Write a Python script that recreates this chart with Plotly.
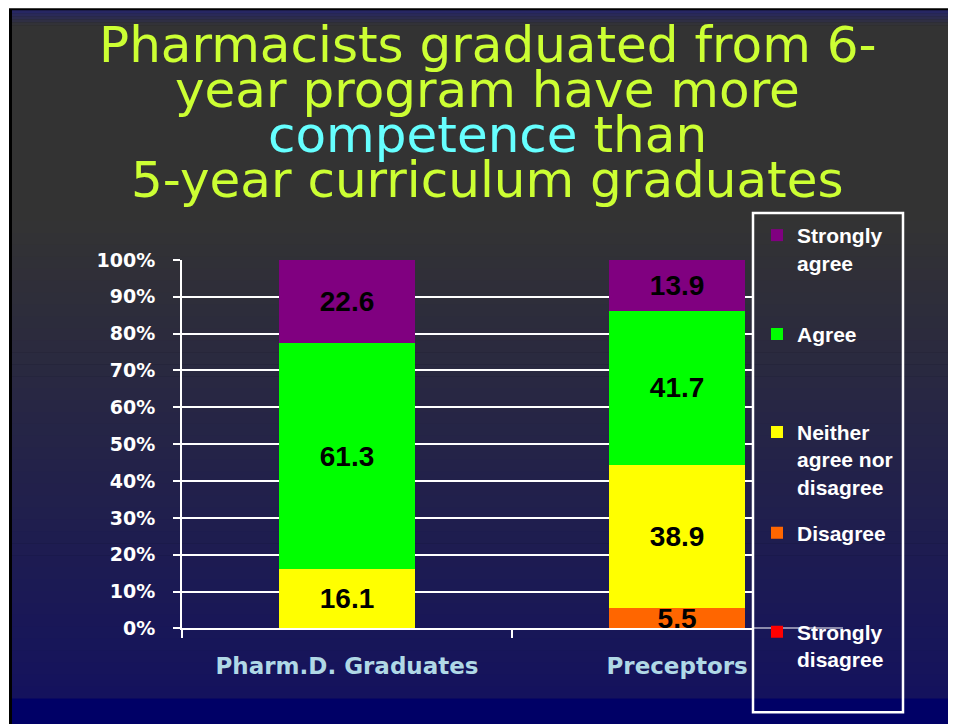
import plotly.graph_objects as go

# Figure sits inside the page's 8px body margin; the capture maps page y to 0.971*y + 10,
# so reference pixel positions are converted back through that before use.
W, H = 940, 728
MARGIN = 8
SY, OY = 0.971, 10

# Survey data (% of respondents)
categories = ["Pharm.D. Graduates", "Preceptors"]
strongly_disagree = [0, 0]
disagree = [0, 5.5]
neither = [16.1, 38.9]
agree = [61.3, 41.7]
strongly_agree = [22.6, 13.9]

series = [
    ("Strongly<br>disagree", strongly_disagree, "#FF0000", "legend5"),
    ("Disagree", disagree, "#FF6600", "legend4"),
    ("Neither<br>agree nor<br>disagree", neither, "#FFFF00", "legend3"),
    ("Agree", agree, "#00FF00", "legend2"),
    ("Strongly<br>agree", strongly_agree, "#800080", "legend"),
]


def px_x(px):
    return (px - MARGIN) / W


def px_y(px):
    return 1 - ((px - OY) / SY - MARGIN) / H


def blend(c0, c1, t):
    return "rgb({},{},{})".format(*[round(a + (b - a) * t) for a, b in zip(c0, c1)])


fig = go.Figure()

for name, vals, color, leg in series:
    fig.add_trace(go.Bar(
        x=categories,
        y=vals,
        name=name,
        marker=dict(color=color, line=dict(width=0)),
        text=[f"{v}" if v else "" for v in vals],
        textposition="inside",
        insidetextanchor="middle",
        textangle=0,
        textfont=dict(family="Liberation Sans", size=28, color="black", weight="bold"),
        legend=leg,
        hovertemplate="%{x}<br>%{y}%<extra></extra>",
    ))

# Slide background: black frame, dark gray -> navy gradient
shapes = [
    dict(type="rect", xref="paper", yref="paper", x0=px_x(9), x1=px_x(960), y0=px_y(740), y1=px_y(7),
         fillcolor="black", line_width=0, layer="below"),
]
gray, navy_top, navy_mid, navy_bot = (51, 51, 51), (38, 38, 104), (20, 18, 94), (0, 0, 102)
bands = [(9, 24, navy_top, gray, 5), (24, 220, gray, gray, 1), (220, 698, gray, navy_mid, 40),
         (698, 740, navy_bot, navy_bot, 1)]
for top, bot, c0, c1, n in bands:
    step = (bot - top) / n
    for i in range(n):
        y0 = top + i * step
        shapes.append(dict(type="rect", xref="paper", yref="paper",
                           x0=px_x(12), x1=px_x(960), y0=px_y(y0 + step + 0.6), y1=px_y(y0),
                           fillcolor=blend(c0, c1, (i + 0.5) / n), line_width=0, layer="below"))

# Legend frame and x-axis line running into it
shapes.append(dict(type="rect", xref="paper", yref="paper", x0=px_x(753), x1=px_x(903),
                   y0=px_y(712), y1=px_y(212), line=dict(color="white", width=2.5)))
shapes.append(dict(type="line", xref="paper", yref="y", x0=px_x(752), x1=px_x(843),
                   y0=0, y1=0, line=dict(color="white", width=2)))

# Title lines
title_font = dict(family="DejaVu Sans", size=50, color="#CCFF33")
title_lines = [
    "Pharmacists graduated from 6-",
    "year program have more",
    "<span style='color:#66FFFF'>competence</span> than",
    "5-year curriculum graduates",
]
annotations = []
for i, line in enumerate(title_lines):
    annotations.append(dict(text=line, xref="paper", yref="paper", x=px_x(488), y=px_y(44 + 45 * i),
                            xanchor="center", yanchor="middle", showarrow=False, font=title_font))

legend_style = dict(
    xanchor="left", yanchor="top", x=px_x(757),
    bgcolor="rgba(0,0,0,0)", borderwidth=0, valign="top",
    font=dict(family="Liberation Sans", size=21, color="white", weight="bold"),
)
legend_tops = {"legend": 214, "legend2": 313, "legend3": 411, "legend4": 512, "legend5": 611}

fig.update_layout(
    width=W, height=H,
    margin=dict(l=0, r=0, t=0, b=0),
    paper_bgcolor="white",
    plot_bgcolor="rgba(0,0,0,0)",
    barmode="stack",
    bargap=0.59,
    showlegend=True,
    shapes=shapes,
    annotations=annotations,
    uniformtext=dict(minsize=26, mode="show"),
    xaxis=dict(
        domain=[px_x(182), px_x(753)],
        range=[-0.5, 1.23],
        showline=True, linecolor="white", linewidth=2,
        ticks="outside", tickson="boundaries", ticklen=8, tickwidth=2, tickcolor="white",
        showgrid=False, zeroline=False,
        ticklabelstandoff=16,
        tickfont=dict(family="DejaVu Sans", size=23, color="#B0D8E6", weight="bold"),
    ),
    yaxis=dict(
        domain=[px_y(628), px_y(259)],
        range=[0, 100], dtick=10, ticksuffix="%",
        showline=True, linecolor="white", linewidth=2,
        ticks="outside", ticklen=7, tickwidth=2, tickcolor="white",
        showgrid=True, gridcolor="white", gridwidth=2, zeroline=False,
        ticklabelstandoff=14,
        tickfont=dict(family="DejaVu Sans", size=19, color="white", weight="bold"),
    ),
)
for key, top in legend_tops.items():
    fig.update_layout({key: dict(legend_style, y=px_y(top))})

fig.write_html("out.html")
